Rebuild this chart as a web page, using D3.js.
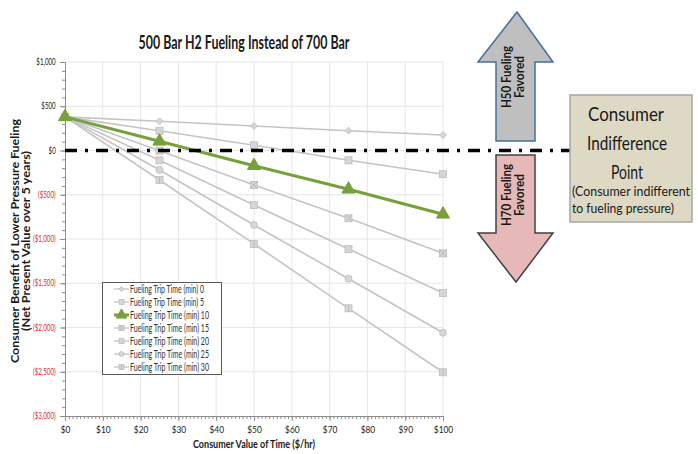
<!DOCTYPE html>
<html>
<head>
<meta charset="utf-8">
<script src="https://cdn.jsdelivr.net/npm/d3@7"></script>
<style>
  html, body { margin: 0; padding: 0; background: #fff; }
  svg { display: block; font-family: Lato, "Open Sans", sans-serif; }
</style>
</head>
<body>
<svg id="chart" width="698" height="454"></svg>
<script>
// Consumer value of time ($/hr)
const valueOfTime = [0, 25, 50, 75, 100];

// Fueling trip time (min) for each series
const tripTimes = [0, 5, 10, 15, 20, 25, 30];

// Net present value benefit of 500 bar fueling, one row per trip time
const benefit0  = [380, 330, 277, 224, 175];
const benefit5  = [380, 224, 59, -111, -268];
const benefit10 = [380, 104, -172, -438, -721];
const benefit15 = [380, -2, -390, -766, -1162];
const benefit20 = [380, -111, -616, -1113, -1610];
const benefit25 = [380, -220, -842, -1449, -2059];
const benefit30 = [380, -333, -1056, -1783, -2506];

const seriesValues = [benefit0, benefit5, benefit10, benefit15, benefit20, benefit25, benefit30];
const markerTypes = ["diamond", "square", "triangle", "xsquare", "square", "circle", "plussquare"];

const xTicks = [0, 10, 20, 30, 40, 50, 60, 70, 80, 90, 100];
const yTicks = [1000, 500, 0, -500, -1000, -1500, -2000, -2500, -3000];

const svg = d3.select("#chart");

const plot = { left: 65, right: 443, top: 62, bottom: 416 };
const x = d3.scaleLinear().domain([0, 100]).range([plot.left, plot.right]);
const y = d3.scaleLinear().domain([-3000, 1000]).range([plot.bottom, plot.top]);

// Fit a text element to a given width
function fit(sel, w) {
  return sel.attr("textLength", w).attr("lengthAdjust", "spacingAndGlyphs");
}
// Condense text horizontally by a factor of its natural width
function condense(sel, k) {
  sel.each(function () {
    const w = this.getComputedTextLength();
    d3.select(this).attr("textLength", w * k).attr("lengthAdjust", "spacingAndGlyphs");
  });
  return sel;
}

// Title
fit(svg.append("text")
  .attr("x", 244).attr("y", 49)
  .attr("text-anchor", "middle")
  .attr("font-size", 18).attr("font-weight", "bold").attr("fill", "#1a1a1a")
  .text("500 Bar H2 Fueling Instead of 700 Bar"), 211);

// Gridlines
svg.append("g").selectAll("line").data(xTicks.slice(1)).join("line")
  .attr("x1", d => x(d)).attr("x2", d => x(d))
  .attr("y1", plot.top).attr("y2", plot.bottom)
  .attr("stroke", "#e6e6e6").attr("stroke-width", 1);
svg.append("g").selectAll("line").data(yTicks.slice(0, -1)).join("line")
  .attr("x1", plot.left).attr("x2", plot.right)
  .attr("y1", d => y(d)).attr("y2", d => y(d))
  .attr("stroke", "#e6e6e6").attr("stroke-width", 1);

// Axes
const money = d => d < 0 ? "($" + d3.format(",")(-d) + ")" : "$" + d3.format(",")(d);

const xAxis = svg.append("g").attr("transform", `translate(0,${plot.bottom})`);
xAxis.call(d3.axisBottom(x).tickValues(d3.range(0, 101, 1)).tickSize(3).tickFormat(""));
xAxis.append("g").call(d3.axisBottom(x).tickValues(xTicks).tickSize(5).tickFormat(money))
  .call(g => g.select(".domain").remove());
xAxis.selectAll("path.domain").attr("stroke", "#8c8c8c");
xAxis.selectAll("line").attr("stroke", "#8c8c8c");
condense(xAxis.selectAll("text").attr("font-size", 9.5).attr("fill", "#1a1a1a")
  .attr("font-family", "Lato, sans-serif").attr("dy", "0.95em"), 0.88);

const yAxis = svg.append("g").attr("transform", `translate(${plot.left},0)`);
yAxis.call(d3.axisLeft(y).tickValues(d3.range(-3000, 1001, 100)).tickSize(3).tickFormat(""));
yAxis.append("g").call(d3.axisLeft(y).tickValues(yTicks).tickSize(5).tickFormat(money))
  .call(g => g.select(".domain").remove());
yAxis.selectAll("path.domain").attr("stroke", "#8c8c8c");
yAxis.selectAll("line").attr("stroke", "#8c8c8c");
condense(yAxis.selectAll("text").attr("font-size", 8.5).attr("font-family", "Lato, sans-serif")
  .attr("fill", d => d < 0 ? "#e0282d" : "#1a1a1a").attr("dx", "-0.15em"), 0.73);

// Axis titles
fit(svg.append("text")
  .attr("x", 254).attr("y", 448)
  .attr("text-anchor", "middle")
  .attr("font-size", 11.5).attr("font-weight", "bold").attr("fill", "#1a1a1a")
  .text("Consumer  Value of Time ($/hr)"), 122);

const yTitle = svg.append("g").attr("transform", "translate(19,241) rotate(-90)");
fit(yTitle.append("text").attr("x", 0).attr("y", 0).attr("text-anchor", "middle")
  .attr("font-size", 12).attr("font-weight", "bold").attr("fill", "#1a1a1a")
  .text("Consumer  Benefit of Lower Pressure Fueling"), 244);
fit(yTitle.append("text").attr("x", 0).attr("y", 11).attr("text-anchor", "middle")
  .attr("font-size", 12).attr("font-weight", "bold").attr("fill", "#1a1a1a")
  .text("(Net Present Value over 5 years)"), 180);

// Marker drawing
function drawMarker(g, type, size, isGreen) {
  const fill = isGreen ? "#77a03a" : "#d6d6d6";
  const stroke = isGreen ? "#77a03a" : "#bdbdbd";
  const s = size;
  if (type === "diamond") {
    g.append("path").attr("d", `M0,${-s/2}L${s/2},0L0,${s/2}L${-s/2},0Z`)
      .attr("fill", fill).attr("stroke", stroke).attr("stroke-width", 0.8);
  } else if (type === "triangle") {
    g.append("path").attr("d", d3.symbol(d3.symbolTriangle, s * s * 0.75)())
      .attr("fill", fill).attr("stroke", stroke);
  } else if (type === "circle") {
    g.append("circle").attr("r", s / 2).attr("fill", fill).attr("stroke", stroke).attr("stroke-width", 0.8);
  } else {
    g.append("rect").attr("x", -s/2).attr("y", -s/2).attr("width", s).attr("height", s)
      .attr("fill", fill).attr("stroke", stroke).attr("stroke-width", 0.8);
    if (type === "xsquare") {
      g.append("path").attr("d", `M${-s/2},${-s/2}L${s/2},${s/2}M${s/2},${-s/2}L${-s/2},${s/2}`)
        .attr("stroke", "#b5b5b5").attr("stroke-width", 0.8);
    } else if (type === "plussquare") {
      g.append("path").attr("d", `M0,${-s/2}L0,${s/2}`)
        .attr("stroke", "#b5b5b5").attr("stroke-width", 0.8);
    }
  }
}

// Series lines and markers (green 10-minute series drawn last, on top)
const line = d3.line().x((d, i) => x(valueOfTime[i])).y(d => y(d));
const order = [0, 1, 3, 4, 5, 6, 2];
const seriesG = svg.append("g");
order.forEach(k => {
  const isGreen = tripTimes[k] === 10;
  seriesG.append("path").datum(seriesValues[k])
    .attr("d", line)
    .attr("fill", "none")
    .attr("stroke", isGreen ? "#77a03a" : "#c4c4c4")
    .attr("stroke-width", isGreen ? 3 : 1.6);
  seriesValues[k].forEach((v, i) => {
    const g = seriesG.append("g").attr("transform", `translate(${x(valueOfTime[i])},${y(v)})`);
    drawMarker(g, markerTypes[k], isGreen ? 10 : 7, isGreen);
  });
});

// Indifference line at zero benefit
svg.append("line")
  .attr("x1", plot.left).attr("x2", 572)
  .attr("y1", y(0)).attr("y2", y(0))
  .attr("stroke", "#000").attr("stroke-width", 3.5)
  .attr("stroke-dasharray", "12,8,3,8");

// Legend
const legend = svg.append("g");
legend.append("rect").attr("x", 102.5).attr("y", 282.5).attr("width", 119).attr("height", 92)
  .attr("fill", "#fff").attr("stroke", "#595959").attr("stroke-width", 1);
tripTimes.forEach((t, k) => {
  const ly = 289 + k * 13;
  const isGreen = t === 10;
  legend.append("line").attr("x1", 114).attr("x2", 129).attr("y1", ly).attr("y2", ly)
    .attr("stroke", isGreen ? "#77a03a" : "#c4c4c4").attr("stroke-width", isGreen ? 3 : 1.3);
  const g = legend.append("g").attr("transform", `translate(121.5,${ly})`);
  drawMarker(g, markerTypes[k], isGreen ? 8 : 5, isGreen);
  fit(legend.append("text").attr("x", 130).attr("y", ly).attr("dy", "0.35em")
    .attr("font-size", 10.5).attr("fill", "#333")
    .text("Fueling Trip Time (min) " + t), t < 10 ? 74 : 79);
});

// Up arrow: 500 bar favoured
svg.append("path")
  .attr("d", "M517,12 L553,62 L535,62 L535,141 L496,141 L496,62 L478,62 Z")
  .attr("fill", "#bfbfbf").attr("stroke", "#41719c").attr("stroke-width", 1.5);
// Down arrow: 700 bar favoured
svg.append("path")
  .attr("d", "M496,155 L535,155 L535,233 L553,233 L516,282 L478,233 L496,233 Z")
  .attr("fill", "#e6b9b8").attr("stroke", "#404040").attr("stroke-width", 1.5);

function arrowText(cx, cy, l1, l2) {
  const g = svg.append("g").attr("transform", `translate(${cx},${cy}) rotate(-90)`);
  fit(g.append("text").attr("x", 0).attr("y", -2).attr("text-anchor", "middle")
    .attr("font-size", 13).attr("font-weight", "bold").attr("fill", "#1a1a1a").text(l1), 62);
  fit(g.append("text").attr("x", 0).attr("y", 11).attr("text-anchor", "middle")
    .attr("font-size", 13).attr("font-weight", "bold").attr("fill", "#1a1a1a").text(l2), 42);
}
arrowText(513, 77, "H50 Fueling", "Favored");
arrowText(513, 195, "H70 Fueling", "Favored");

// Consumer indifference point callout
svg.append("rect").attr("x", 570).attr("y", 95).attr("width", 122).attr("height", 127)
  .attr("fill", "#ddd9c4").attr("stroke", "#a6a6a6").attr("stroke-width", 1.5);
const boxLines = [
  { t: "Consumer", x: 626, y: 121, s: 20, w: 76, a: "middle" },
  { t: "Indifference", x: 627, y: 150, s: 20, w: 80, a: "middle" },
  { t: "Point", x: 627, y: 179, s: 20, w: 32, a: "middle" },
  { t: "(Consumer indifferent", x: 572, y: 196, s: 12.5, w: 118, a: "start" },
  { t: "to fueling pressure)", x: 572, y: 213, s: 12.5, w: 102, a: "start" }
];
boxLines.forEach(d => {
  fit(svg.append("text").attr("x", d.x).attr("y", d.y).attr("text-anchor", d.a)
    .attr("font-size", d.s).attr("fill", "#1a1a1a").text(d.t), d.w);
});
</script>
</body>
</html>
